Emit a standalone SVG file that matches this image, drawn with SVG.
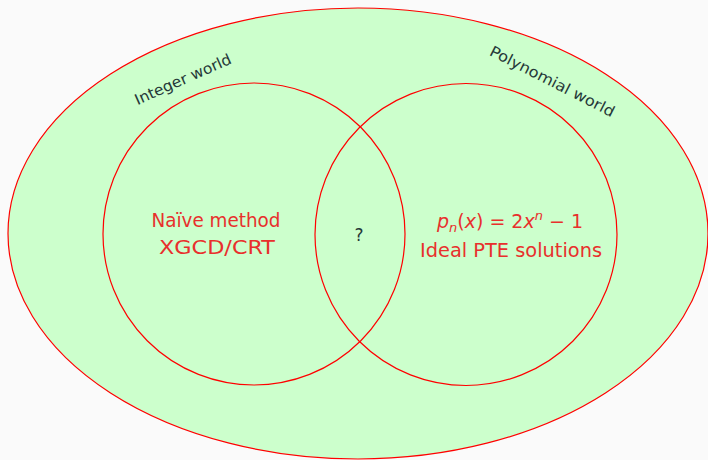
<svg xmlns="http://www.w3.org/2000/svg" width="708" height="460" viewBox="0 0 708 460">
<style>
.bg{fill:#fafafa}
.world{fill:#ccffcc;stroke:#ff0000;stroke-width:1.2}
.set{fill:none;stroke:#ff0000;stroke-width:1.2}
.lab{font-family:"DejaVu Sans","Liberation Sans",sans-serif;font-size:15px;fill:#253838;text-anchor:middle}
.main{font-family:"DejaVu Sans","Liberation Sans",sans-serif;font-size:19px;fill:#e8302c;text-anchor:middle}
.q{font-family:"DejaVu Sans","Liberation Sans",sans-serif;font-size:17px;fill:#253838;text-anchor:middle}
</style>
<rect class="bg" x="0" y="0" width="708" height="460"/>
<g id="universe">
<ellipse class="world" cx="358" cy="233.5" rx="350" ry="225.5"/>
</g>
<g id="integer-world">
<circle class="set" cx="254" cy="234" r="151"/>
<text class="lab" transform="translate(185,84) rotate(-24)" textLength="104" lengthAdjust="spacingAndGlyphs">Integer world</text>
<text class="main" x="216" y="227" textLength="129" lengthAdjust="spacingAndGlyphs">Naïve method</text>
<text class="main" x="217" y="254" font-size="20" textLength="116" lengthAdjust="spacingAndGlyphs">XGCD/CRT</text>
</g>
<g id="polynomial-world">
<circle class="set" cx="466" cy="234.5" r="151"/>
<text class="lab" transform="translate(550,86) rotate(27)" textLength="138" lengthAdjust="spacingAndGlyphs">Polynomial world</text>
<text class="main" x="510" y="228"><tspan font-style="italic">p</tspan><tspan font-style="italic" font-size="13" dy="4">n</tspan><tspan dy="-4">(</tspan><tspan font-style="italic">x</tspan><tspan>) = 2</tspan><tspan font-style="italic">x</tspan><tspan font-style="italic" font-size="13" dy="-8">n</tspan><tspan dy="8"> − 1</tspan></text>
<text class="main" x="511" y="257" textLength="182" lengthAdjust="spacingAndGlyphs">Ideal PTE solutions</text>
</g>
<g id="intersection">
<text class="q" x="359" y="241">?</text>
</g>
<g id="connectors"></g>
</svg>
